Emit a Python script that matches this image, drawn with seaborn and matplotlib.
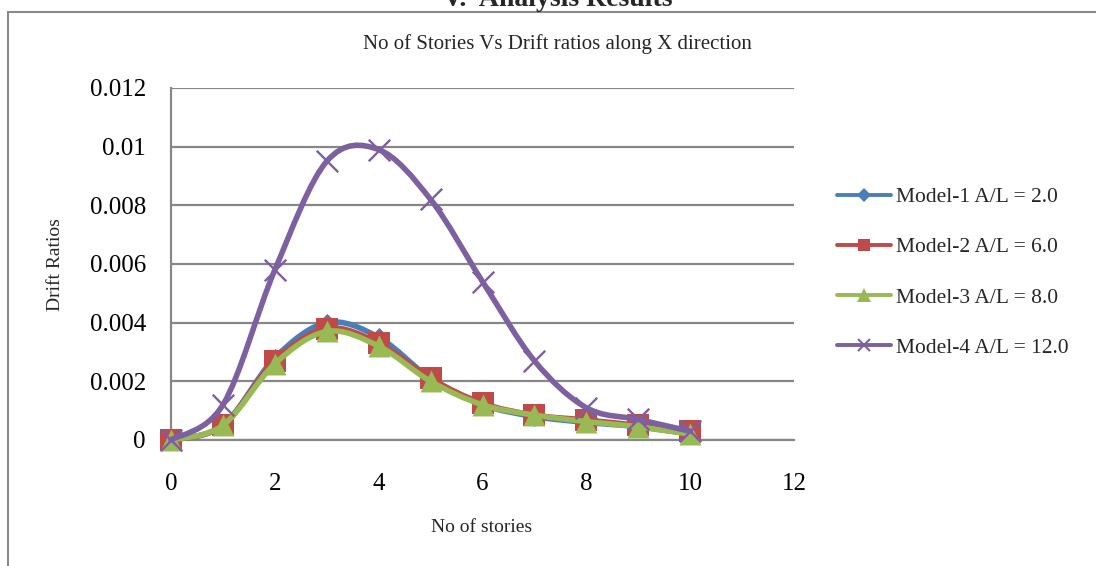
import matplotlib
matplotlib.use("Agg")
import matplotlib.pyplot as plt
import seaborn as sns
import pandas as pd
from matplotlib.path import Path
from matplotlib.patches import PathPatch, Rectangle
from matplotlib.lines import Line2D

# ---- data -------------------------------------------------------------
stories = [0, 1, 2, 3, 4, 5, 6, 7, 8, 9, 10]
model1 = [0, 0.0005, 0.0028, 0.0040, 0.0035, 0.0021, 0.0012, 0.0008, 0.0006, 0.00045, 0.0002]
model2 = [0, 0.0005, 0.0027, 0.0038, 0.0033, 0.0021, 0.00125, 0.00085, 0.00068, 0.0005, 0.0003]
model3 = [0, 0.0005, 0.0026, 0.0037, 0.0032, 0.0020, 0.0012, 0.00085, 0.00063, 0.00045, 0.0002]
model4 = [0, 0.0012, 0.0058, 0.0095, 0.0099, 0.0082, 0.0054, 0.0027, 0.0011, 0.0007, 0.0003]
labels = ["Model-1 A/L = 2.0", "Model-2 A/L = 6.0", "Model-3 A/L = 8.0", "Model-4 A/L = 12.0"]
x_ticks = [0, 2, 4, 6, 8, 10, 12]
y_ticks = [0, 0.002, 0.004, 0.006, 0.008, 0.01, 0.012]
y_tick_labels = ["0", "0.002", "0.004", "0.006", "0.008", "0.01", "0.012"]

colors = ["#4A7EBB", "#BE4B48", "#98B954", "#7D60A0"]
markers = ["D", "s", "^", "x"]
marker_sizes = [95, 230, 250, 240]
legend_msizes = [7, 8.5, 9.5, 9]

sns.set_style("white")
plt.rcParams["font.family"] = ["Liberation Serif", "DejaVu Serif"]

fig = plt.figure(figsize=(10.96, 5.66), dpi=100)
ax = fig.add_axes([171 / 1096, 1 - 440 / 566, 623 / 1096, 352 / 566])


def smooth_path(xs, ys):
    """Bezier path through the points with Catmull-Rom style tangents."""
    pts = list(zip(xs, ys))
    n = len(pts)
    verts = [pts[0]]
    codes = [Path.MOVETO]
    for i in range(n - 1):
        p0 = pts[i - 1] if i > 0 else pts[i]
        p1 = pts[i]
        p2 = pts[i + 1]
        p3 = pts[i + 2] if i + 2 < n else pts[i + 1]
        c1 = (p1[0] + (p2[0] - p0[0]) / 6, p1[1] + (p2[1] - p0[1]) / 6)
        c2 = (p2[0] - (p3[0] - p1[0]) / 6, p2[1] - (p3[1] - p1[1]) / 6)
        verts += [c1, c2, p2]
        codes += [Path.CURVE4] * 3
    return Path(verts, codes)


series = [model1, model2, model3, model4]
for k, (vals, col, mk, ms) in enumerate(zip(series, colors, markers, marker_sizes)):
    df = pd.DataFrame({"stories": stories, "drift": vals})
    patch = PathPatch(smooth_path(df["stories"], df["drift"]), fill=False,
                      edgecolor=col, linewidth=4.0, zorder=3 + 2 * k,
                      capstyle="round", joinstyle="round")
    patch.set_clip_on(False)
    ax.add_patch(patch)
    n_before = len(ax.collections)
    if mk == "x":
        sns.scatterplot(data=df, x="stories", y="drift", marker=mk, s=ms,
                        color=col, linewidth=1.7, ax=ax, legend=False, zorder=4 + 2 * k)
    else:
        sns.scatterplot(data=df, x="stories", y="drift", marker=mk, s=ms,
                        color=col, linewidth=0, ax=ax, legend=False, zorder=4 + 2 * k)
    for coll in ax.collections[n_before:]:
        coll.set_clip_on(False)
        coll.set_zorder(4 + 2 * k)

ax.set_xlim(0, 12)
ax.set_ylim(0, 0.012)
ax.set_xticks(x_ticks)
ax.set_xticklabels([str(t) for t in x_ticks])
ax.set_yticks(y_ticks)
ax.set_yticklabels(y_tick_labels)
ax.tick_params(axis="both", length=0, labelsize=18, colors="black")
ax.tick_params(axis="y", pad=18)
ax.tick_params(axis="x", pad=23.5)

ax.yaxis.grid(True, color="#878787", linewidth=1.6)
ax.xaxis.grid(False)
ax.set_axisbelow(True)
for side in ["top", "right"]:
    ax.spines[side].set_visible(False)
for side in ["left", "bottom"]:
    ax.spines[side].set_color("#878787")
    ax.spines[side].set_linewidth(1.6)

ax.set_xlabel("No of stories", fontsize=14)
ax.set_ylabel("Drift Ratios", fontsize=14)
ax.xaxis.label.set_va("center")
ax.yaxis.label.set_va("center")
ax.xaxis.set_label_coords((482 - 171) / 623, (440 - 528) / 352)
ax.yaxis.set_label_coords((55 - 171) / 623, (440 - 265) / 352)

fig.text(557 / 1096, 1 - 44 / 566, "No of Stories Vs Drift ratios along X direction",
         ha="center", va="center", fontsize=15)
fig.text(558 / 1096, 1 - 6 / 566, "V.  Analysis Results", ha="center", va="baseline",
         fontsize=20, fontweight="bold")

# outer chart frame
fig.add_artist(Rectangle((8 / 1096, -0.1), 1.2, 1.1 - 12 / 566, transform=fig.transFigure,
                         fill=False, edgecolor="#8a8a8a", linewidth=1.5))

handles = [Line2D([0], [0], color=c, linewidth=2.8, marker=m, markersize=s,
                  markeredgewidth=(1.5 if m == "x" else 0))
           for c, m, s in zip(colors, markers, legend_msizes)]
fig.legend(handles, labels, loc="center left", bbox_to_anchor=(837 / 1096, 1 - 272.5 / 566),
           frameon=False, fontsize=15.5, handlelength=2.5, handletextpad=0.25,
           labelspacing=1.4, borderpad=0, borderaxespad=0)

fig.savefig("out.png", dpi=100)
